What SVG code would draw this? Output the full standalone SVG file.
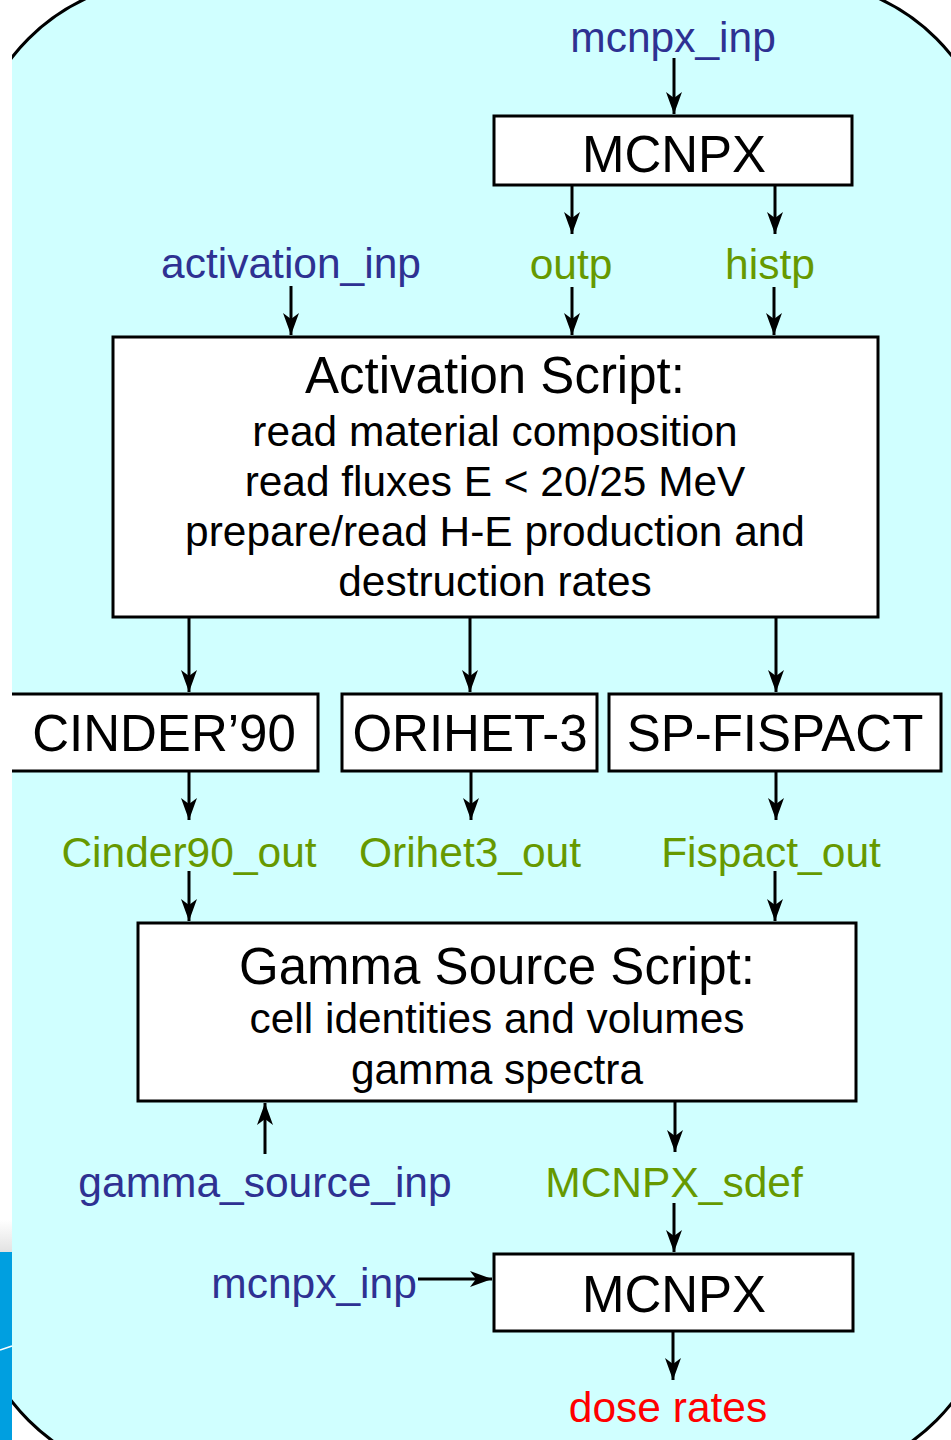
<svg xmlns="http://www.w3.org/2000/svg" width="951" height="1440" viewBox="0 0 951 1440">
<defs>
<style>
.box{fill:#fff;stroke:#000;stroke-width:3}
.t{font-family:"Liberation Sans",Arial,sans-serif;text-anchor:middle}
.title{font-size:51px;fill:#000}
.sub{font-size:42.4px;fill:#000}
.in{font-size:42.5px;fill:#2e3192}
.out{font-size:42.5px;fill:#669900}
.red{font-size:42.5px;fill:#ff0000}
.c line{stroke:#000;stroke-width:3;marker-end:url(#ah)}
</style>
<marker id="ah" markerUnits="userSpaceOnUse" markerWidth="26" markerHeight="20" viewBox="-24 -10 26 20" refX="0" refY="0" orient="auto">
<path d="M0,0 L-22,-8 L-16,0 L-22,8 Z" fill="#000"/>
</marker>
<linearGradient id="gr" x1="0" y1="0" x2="0" y2="1">
<stop offset="0" stop-color="#ffffff"/>
<stop offset="1" stop-color="#e2e2e2"/>
</linearGradient>
</defs>
<rect x="0" y="0" width="951" height="1440" fill="#fff"/>
<rect x="-30" y="-20" width="1025" height="1499" rx="200" ry="200" fill="#d0ffff" stroke="#000" stroke-width="3"/>
<rect x="0" y="0" width="12" height="1440" fill="#fff"/>
<rect x="0" y="1220" width="12" height="32" fill="url(#gr)"/>
<rect x="0" y="1252" width="12" height="188" fill="#009fe0"/>
<line x1="0" y1="1350" x2="12" y2="1346" stroke="#fff" stroke-width="1.5"/>

<g id="mcnpx1">
<rect class="box" x="494" y="116" width="358" height="69"/>
<text class="t title" x="674" y="172">MCNPX</text>
</g>
<g id="activation">
<rect class="box" x="113" y="337" width="765" height="280"/>
<text class="t title" x="495" y="393">Activation Script:</text>
<text class="t sub" x="495" y="446">read material composition</text>
<text class="t sub" x="495" y="496">read fluxes E &lt; 20/25 MeV</text>
<text class="t sub" x="495" y="546">prepare/read H-E production and</text>
<text class="t sub" x="495" y="596">destruction rates</text>
</g>
<g id="cinder">
<rect x="12" y="694" width="306" height="77" fill="#fff"/>
<path d="M12,694 H318 V771 H12" fill="none" stroke="#000" stroke-width="3"/>
<text class="t title" x="164" y="751">CINDER’90</text>
</g>
<g id="orihet">
<rect class="box" x="342" y="694" width="255" height="77"/>
<text class="t title" x="470" y="751">ORIHET-3</text>
</g>
<g id="spfispact">
<rect class="box" x="609" y="694" width="332" height="77"/>
<text class="t title" x="775" y="751">SP-FISPACT</text>
</g>
<g id="gamma">
<rect class="box" x="138" y="923" width="718" height="178"/>
<text class="t title" x="497" y="984">Gamma Source Script:</text>
<text class="t sub" x="497" y="1033">cell identities and volumes</text>
<text class="t sub" x="497" y="1084">gamma spectra</text>
</g>
<g id="mcnpx2">
<rect class="box" x="494" y="1254" width="359" height="77"/>
<text class="t title" x="674" y="1312">MCNPX</text>
</g>

<g id="labels">
<text class="t in" x="673" y="52">mcnpx_inp</text>
<text class="t in" x="291" y="278">activation_inp</text>
<text class="t out" x="571" y="279">outp</text>
<text class="t out" x="770" y="279">histp</text>
<text class="t out" x="189" y="867">Cinder90_out</text>
<text class="t out" x="470" y="867">Orihet3_out</text>
<text class="t out" x="771" y="867">Fispact_out</text>
<text class="t in" x="265" y="1197">gamma_source_inp</text>
<text class="t out" x="674" y="1197">MCNPX_sdef</text>
<text class="t in" x="314" y="1298">mcnpx_inp</text>
<text class="t red" x="668" y="1422">dose rates</text>
</g>

<g id="connectors" class="c">
<line x1="674" y1="58" x2="674" y2="114"/>
<line x1="572" y1="185" x2="572" y2="234"/>
<line x1="775" y1="185" x2="775" y2="234"/>
<line x1="291" y1="286" x2="291" y2="335"/>
<line x1="572" y1="287" x2="572" y2="335"/>
<line x1="774" y1="287" x2="774" y2="335"/>
<line x1="189" y1="617" x2="189" y2="692"/>
<line x1="470" y1="617" x2="470" y2="692"/>
<line x1="776" y1="617" x2="776" y2="692"/>
<line x1="189" y1="771" x2="189" y2="820"/>
<line x1="471" y1="771" x2="471" y2="820"/>
<line x1="776" y1="771" x2="776" y2="820"/>
<line x1="189" y1="871" x2="189" y2="921"/>
<line x1="775" y1="871" x2="775" y2="921"/>
<line x1="265" y1="1154" x2="265" y2="1103"/>
<line x1="675" y1="1101" x2="675" y2="1152"/>
<line x1="674" y1="1203" x2="674" y2="1252"/>
<line x1="418" y1="1279" x2="492" y2="1279"/>
<line x1="673" y1="1331" x2="673" y2="1380"/>
</g>
</svg>
